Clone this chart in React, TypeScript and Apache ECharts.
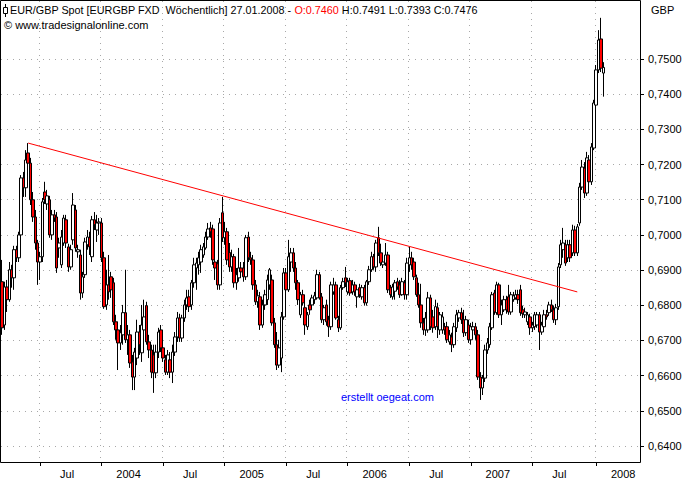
import React, { useEffect, useRef } from "react";
import * as echarts from "echarts";

// Weekly categories (week dated by its Sunday), first bar 2003-03-16, last bar 2008-01-27, padded to the right edge
const START_UTC = Date.UTC(2003, 2, 16);
const WEEK_COUNT = 270;
const categories: string[] = [];
for (let i = 0; i < WEEK_COUNT; i++) {
  categories.push(new Date(START_UTC + i * 7 * 86400000).toISOString().slice(0, 10));
}

// x-axis period marks (first bar of each half-year) and their labels
const xTickDates = ["2003-07-06", "2004-01-04", "2004-07-04", "2005-01-02", "2005-07-03", "2006-01-01", "2006-07-02", "2006-12-31", "2007-07-01", "2008-01-06"];
const xTickLabels = ["Jul", "2004", "Jul", "2005", "Jul", "2006", "Jul", "2007", "Jul", "2008"];

// y-axis labelled values
const yTickValues = [0.64, 0.65, 0.66, 0.67, 0.68, 0.69, 0.7, 0.71, 0.72, 0.73, 0.74, 0.75];

// Weekly candles [open, close, low, high]
const ohlc2003 = [
  [0.6867, 0.6736, 0.6716, 0.6929], [0.6744, 0.6852, 0.673, 0.6867], [0.6852, 0.6816, 0.6781, 0.6872], [0.6816, 0.6901, 0.681, 0.6923],
  [0.6901, 0.6878, 0.685, 0.6915], [0.6878, 0.6958, 0.6844, 0.6969], [0.6958, 0.6935, 0.6923, 0.6969], [0.6935, 0.7, 0.6923, 0.7009],
  [0.7, 0.7162, 0.6986, 0.717], [0.7162, 0.7134, 0.7108, 0.7179], [0.7134, 0.7213, 0.7108, 0.7241], [0.7233, 0.7204, 0.719, 0.7261],
  [0.7204, 0.71, 0.7085, 0.7219], [0.71, 0.7051, 0.7037, 0.7122], [0.7051, 0.6977, 0.6958, 0.7071], [0.6977, 0.6923, 0.6858, 0.6986],
  [0.6923, 0.6938, 0.6872, 0.6952], [0.6938, 0.7094, 0.6923, 0.7105], [0.7122, 0.71, 0.7088, 0.7151], [0.7088, 0.7111, 0.7071, 0.7128],
  [0.71, 0.7, 0.6992, 0.7111], [0.7, 0.7057, 0.6986, 0.7071], [0.7057, 0.7048, 0.7037, 0.7071], [0.7051, 0.6906, 0.6892, 0.7065],
  [0.6963, 0.6977, 0.6935, 0.6992], [0.6915, 0.6994, 0.6906, 0.7014], [0.6977, 0.7048, 0.6969, 0.7057], [0.7043, 0.6977, 0.6963, 0.7057],
  [0.6966, 0.6909, 0.6895, 0.6975], [0.6909, 0.6958, 0.6901, 0.6972], [0.6986, 0.7085, 0.6972, 0.7119], [0.7071, 0.6963, 0.6952, 0.7085],
  [0.6952, 0.6958, 0.6935, 0.6972], [0.6943, 0.6835, 0.6816, 0.6958], [0.6835, 0.6881, 0.6821, 0.6895], [0.6887, 0.698, 0.6878, 0.6992],
  [0.6972, 0.6994, 0.6958, 0.7014], [0.6992, 0.6966, 0.6943, 0.7009], [0.6938, 0.7043, 0.6923, 0.7054], [0.7043, 0.7029, 0.7014, 0.7065],
  [0.7014, 0.7034, 0.698, 0.7057], [0.7034, 0.7037, 0.7, 0.7048],
];
const ohlc2004 = [
  [0.7034, 0.6935, 0.6923, 0.7048], [0.6935, 0.6796, 0.679, 0.6952], [0.6801, 0.6858, 0.6787, 0.6901], [0.6858, 0.6838, 0.6816, 0.6943],
  [0.6881, 0.6844, 0.6821, 0.6895], [0.6864, 0.6753, 0.6744, 0.6878], [0.6753, 0.673, 0.6702, 0.6773], [0.673, 0.6693, 0.6616, 0.6753],
  [0.6693, 0.6722, 0.6673, 0.6744], [0.6716, 0.6779, 0.6688, 0.6801], [0.6779, 0.6702, 0.6693, 0.6901], [0.6702, 0.6716, 0.6659, 0.6744],
  [0.6716, 0.6636, 0.6622, 0.673], [0.6639, 0.6596, 0.6559, 0.6659], [0.6596, 0.6667, 0.6559, 0.6679], [0.665, 0.6724, 0.663, 0.6759],
  [0.6724, 0.6688, 0.6659, 0.6744], [0.6665, 0.6744, 0.6639, 0.6801], [0.673, 0.6767, 0.6702, 0.6816], [0.6799, 0.6696, 0.6688, 0.681],
  [0.6696, 0.6673, 0.665, 0.6716], [0.6673, 0.661, 0.6593, 0.6688], [0.6659, 0.6608, 0.6551, 0.6688], [0.6608, 0.6667, 0.6593, 0.6688],
  [0.6667, 0.6724, 0.665, 0.6736], [0.673, 0.6679, 0.6667, 0.6744], [0.6679, 0.665, 0.6639, 0.6702], [0.6645, 0.661, 0.6602, 0.6659],
  [0.661, 0.6659, 0.6602, 0.6673], [0.6645, 0.661, 0.6593, 0.6667], [0.661, 0.6667, 0.6579, 0.6688], [0.6667, 0.671, 0.6656, 0.6724],
  [0.671, 0.6764, 0.6696, 0.6781], [0.6764, 0.6707, 0.6696, 0.6776], [0.6707, 0.6764, 0.6696, 0.6773], [0.6764, 0.6801, 0.6753, 0.6816],
  [0.6801, 0.6821, 0.6787, 0.6844], [0.6824, 0.6796, 0.6781, 0.6844], [0.6801, 0.6864, 0.6787, 0.6872], [0.6864, 0.6915, 0.685, 0.6935],
  [0.6906, 0.692, 0.6844, 0.6935], [0.6915, 0.6935, 0.6887, 0.6952], [0.6923, 0.6958, 0.6892, 0.6972], [0.6943, 0.6966, 0.6935, 0.6977],
  [0.6963, 0.6994, 0.6958, 0.7009], [0.6994, 0.7017, 0.6986, 0.7034], [0.702, 0.7009, 0.6992, 0.7037], [0.7017, 0.6929, 0.6915, 0.7029],
  [0.6923, 0.6906, 0.6872, 0.6943], [0.6918, 0.6858, 0.6844, 0.6929], [0.6858, 0.7034, 0.6844, 0.7048], [0.7063, 0.6992, 0.698, 0.7108],
];
const ohlc2005 = [
  [0.6992, 0.7009, 0.6972, 0.7037], [0.7009, 0.6929, 0.6915, 0.702], [0.695, 0.6909, 0.6895, 0.6977], [0.6909, 0.6938, 0.6895, 0.6958],
  [0.6938, 0.6864, 0.685, 0.6946], [0.6864, 0.6887, 0.6844, 0.6906], [0.6878, 0.6906, 0.6867, 0.6963], [0.6906, 0.6895, 0.6878, 0.6923],
  [0.6906, 0.6881, 0.6867, 0.6923], [0.6881, 0.6992, 0.6872, 0.7], [0.6994, 0.6935, 0.6923, 0.7009], [0.6935, 0.6929, 0.6915, 0.6952],
  [0.6929, 0.6858, 0.6844, 0.6943], [0.6858, 0.681, 0.6801, 0.6872], [0.681, 0.6827, 0.6793, 0.6844], [0.6824, 0.6744, 0.673, 0.6838],
  [0.6744, 0.6801, 0.6736, 0.6816], [0.6801, 0.683, 0.6787, 0.6844], [0.6816, 0.6872, 0.6801, 0.6887], [0.6858, 0.6901, 0.6844, 0.6906],
  [0.6872, 0.675, 0.6742, 0.6887], [0.675, 0.6688, 0.6679, 0.6764], [0.6688, 0.663, 0.6616, 0.6724], [0.663, 0.6679, 0.6622, 0.6702],
  [0.665, 0.6767, 0.661, 0.6781], [0.6767, 0.6892, 0.6759, 0.6906], [0.6892, 0.6844, 0.683, 0.6906], [0.6844, 0.6938, 0.6838, 0.6986],
  [0.6923, 0.6949, 0.6895, 0.6963], [0.6949, 0.6906, 0.6895, 0.6963], [0.6906, 0.6864, 0.6844, 0.6923], [0.6864, 0.6816, 0.6801, 0.6872],
  [0.6773, 0.683, 0.6764, 0.6838], [0.683, 0.6807, 0.6799, 0.6844], [0.6793, 0.6744, 0.6716, 0.681], [0.6739, 0.6773, 0.673, 0.6781],
  [0.6801, 0.6787, 0.6773, 0.6816], [0.6801, 0.6821, 0.6793, 0.683], [0.6816, 0.6827, 0.6804, 0.6838], [0.6821, 0.6887, 0.6816, 0.6901],
  [0.6887, 0.6821, 0.6816, 0.6895], [0.6824, 0.6759, 0.675, 0.6835], [0.6759, 0.6793, 0.6744, 0.6801], [0.6801, 0.6753, 0.6742, 0.6816],
  [0.6759, 0.6739, 0.671, 0.677], [0.6739, 0.6858, 0.673, 0.6867], [0.6838, 0.6858, 0.683, 0.6878], [0.6858, 0.6764, 0.6759, 0.6867],
  [0.6759, 0.6736, 0.6724, 0.677], [0.6736, 0.685, 0.673, 0.6858], [0.685, 0.6867, 0.6844, 0.6878], [0.6878, 0.6864, 0.6852, 0.6909],
];
const ohlc2006 = [
  [0.6838, 0.6867, 0.683, 0.6878], [0.687, 0.6835, 0.6827, 0.6878], [0.6838, 0.6858, 0.683, 0.6872], [0.6858, 0.6838, 0.6827, 0.6867],
  [0.6824, 0.6844, 0.6793, 0.6852], [0.685, 0.683, 0.6821, 0.6861], [0.6824, 0.685, 0.6816, 0.6858], [0.685, 0.6807, 0.6799, 0.6858],
  [0.6807, 0.6867, 0.6799, 0.6872], [0.6867, 0.6901, 0.6858, 0.6912], [0.6901, 0.6938, 0.6895, 0.6952], [0.6938, 0.6909, 0.6901, 0.6946],
  [0.6909, 0.6977, 0.6895, 0.6986], [0.6992, 0.6949, 0.694, 0.7023], [0.6949, 0.692, 0.6912, 0.6975], [0.6915, 0.6923, 0.6906, 0.6935],
  [0.692, 0.6943, 0.6912, 0.6977], [0.6943, 0.6844, 0.6835, 0.6952], [0.685, 0.683, 0.6821, 0.6858], [0.6824, 0.6852, 0.6816, 0.6861],
  [0.684, 0.6864, 0.6816, 0.6872], [0.6867, 0.6852, 0.6844, 0.6878], [0.6858, 0.683, 0.6821, 0.6872], [0.683, 0.6867, 0.6827, 0.6878],
  [0.6864, 0.683, 0.6816, 0.6872], [0.683, 0.692, 0.6816, 0.6935], [0.6915, 0.6935, 0.6895, 0.6966], [0.6935, 0.6915, 0.6901, 0.6952],
  [0.6923, 0.6881, 0.6872, 0.6935], [0.6878, 0.683, 0.6824, 0.6887], [0.683, 0.6801, 0.6793, 0.6864], [0.6801, 0.675, 0.6736, 0.6861],
  [0.675, 0.673, 0.6716, 0.6764], [0.673, 0.6764, 0.6713, 0.6781], [0.673, 0.6821, 0.6722, 0.6838], [0.6821, 0.6739, 0.673, 0.683],
  [0.6767, 0.6736, 0.6722, 0.6787], [0.6739, 0.6796, 0.673, 0.6816], [0.6793, 0.6739, 0.6707, 0.6807], [0.673, 0.6773, 0.6716, 0.6781],
  [0.673, 0.6767, 0.6719, 0.6781], [0.6739, 0.673, 0.6716, 0.675], [0.6739, 0.6702, 0.6693, 0.6753], [0.6696, 0.6716, 0.6688, 0.673],
  [0.671, 0.6688, 0.6667, 0.6722], [0.6688, 0.6739, 0.6679, 0.675], [0.6736, 0.6773, 0.6724, 0.6787], [0.6764, 0.6779, 0.6753, 0.6787],
  [0.6779, 0.6759, 0.6747, 0.6793], [0.6759, 0.6722, 0.671, 0.6787], [0.6722, 0.6759, 0.6713, 0.677], [0.6744, 0.6702, 0.6693, 0.6759],
  [0.6702, 0.6739, 0.6688, 0.675],
];
const ohlc2007 = [
  [0.673, 0.6739, 0.6722, 0.6753], [0.6739, 0.6716, 0.6702, 0.675], [0.6716, 0.6596, 0.6588, 0.673], [0.6596, 0.6565, 0.6531, 0.661],
  [0.6565, 0.6593, 0.6545, 0.6602], [0.6593, 0.6673, 0.6582, 0.6688], [0.6673, 0.6693, 0.6662, 0.6707], [0.6688, 0.6739, 0.6679, 0.675],
  [0.6736, 0.683, 0.673, 0.6838], [0.6835, 0.6781, 0.6773, 0.6844], [0.6779, 0.6858, 0.6773, 0.6867], [0.6858, 0.6773, 0.6764, 0.6864],
  [0.6773, 0.6801, 0.6744, 0.6816], [0.6787, 0.6816, 0.6781, 0.6827], [0.6816, 0.6787, 0.6776, 0.6827], [0.6824, 0.6781, 0.6773, 0.6858],
  [0.6781, 0.683, 0.6773, 0.6838], [0.6816, 0.6827, 0.681, 0.6838], [0.6821, 0.683, 0.6816, 0.6844], [0.683, 0.6816, 0.6804, 0.6844],
  [0.6844, 0.6779, 0.677, 0.6858], [0.6787, 0.6776, 0.6764, 0.6799], [0.6773, 0.6781, 0.6764, 0.6793], [0.6753, 0.6773, 0.6744, 0.6781],
  [0.6767, 0.6736, 0.6716, 0.6776], [0.6736, 0.6744, 0.6724, 0.6753], [0.6739, 0.6773, 0.673, 0.6781], [0.6744, 0.6773, 0.6736, 0.6781],
  [0.6773, 0.6724, 0.6673, 0.6781], [0.6724, 0.6744, 0.6716, 0.6753], [0.6739, 0.6773, 0.673, 0.6787], [0.6773, 0.6767, 0.6759, 0.6787],
  [0.6779, 0.6801, 0.677, 0.681], [0.6801, 0.6787, 0.6781, 0.6816], [0.6787, 0.6759, 0.675, 0.6799], [0.6759, 0.6793, 0.6744, 0.6804],
  [0.6796, 0.6909, 0.6787, 0.692], [0.6915, 0.6972, 0.6906, 0.6986], [0.6958, 0.6977, 0.6935, 0.702], [0.6972, 0.692, 0.6912, 0.6986],
  [0.6935, 0.6972, 0.6923, 0.6986], [0.6972, 0.6935, 0.6923, 0.6986], [0.6949, 0.7014, 0.694, 0.7029], [0.7014, 0.6949, 0.694, 0.7026],
  [0.6949, 0.7023, 0.694, 0.7031], [0.7034, 0.7136, 0.7026, 0.7148], [0.7136, 0.7193, 0.7128, 0.7213], [0.719, 0.7119, 0.7105, 0.7207],
  [0.7119, 0.7219, 0.7111, 0.7236], [0.7213, 0.7151, 0.7134, 0.7227], [0.7151, 0.725, 0.7142, 0.7261], [0.7247, 0.7375, 0.7241, 0.7384],
];
const ohlc2008 = [
  [0.7369, 0.7469, 0.7361, 0.7483], [0.7469, 0.7554, 0.746, 0.7582], [0.7557, 0.7474, 0.7463, 0.7617], [0.746, 0.7476, 0.7393, 0.7491],
];

// Trend line anchors (week index, price)
const trendStartIndex = 11;
const trendStartPrice = 0.7261;
const trendEndIndex = 243;
const trendEndPrice = 0.6838;

const FONT = '"Liberation Sans", Arial, sans-serif';

const isTick = (_i: number, value: string) => xTickDates.indexOf(value) >= 0;

export default function App() {
  const ref = useRef<HTMLDivElement>(null);

  useEffect(() => {
    document.body.style.margin = "0";
    if (!ref.current) return;
    const chart = echarts.init(ref.current, undefined, { renderer: "svg" });
    const candles = [...ohlc2003, ...ohlc2004, ...ohlc2005, ...ohlc2006, ...ohlc2007, ...ohlc2008];
    const dotted = { color: "#a8a8a8", width: 1, type: [1, 5] as number[] };

    chart.setOption({
      animation: false,
      backgroundColor: "#ffffff",
      grid: [
        { left: 1, width: 639, top: 23.82, height: 422.2 },
        { left: 1, width: 639, top: 1, height: 461 },
      ],
      xAxis: [
        { type: "category", gridIndex: 0, data: categories, boundaryGap: true, show: false },
        {
          type: "category",
          gridIndex: 1,
          data: categories,
          boundaryGap: true,
          position: "bottom",
          axisLine: { show: false },
          axisTick: { show: true, alignWithLabel: true, length: 4, interval: isTick, lineStyle: { color: "#000" } },
          axisLabel: {
            show: true,
            interval: isTick,
            hideOverlap: false,
            margin: 6,
            padding: [0, 0, 0, 54],
            fontSize: 11,
            fontFamily: FONT,
            color: "#000",
            formatter: (v: string) => {
              const k = xTickDates.indexOf(v);
              return k >= 0 ? xTickLabels[k] : "";
            },
          },
          splitLine: { show: true, interval: isTick, lineStyle: dotted },
        },
      ],
      yAxis: [
        {
          type: "value",
          gridIndex: 0,
          position: "right",
          min: 0.64,
          max: 0.76,
          interval: 0.01,
          axisLine: { show: false },
          axisTick: { show: true, length: 4, customValues: yTickValues, lineStyle: { color: "#000" } },
          axisLabel: {
            customValues: yTickValues,
            margin: 8,
            fontSize: 11,
            fontFamily: FONT,
            color: "#000",
            formatter: (v: number) => (v > 0.635 && v < 0.755 ? v.toFixed(4).replace(".", ",") : ""),
          },
          splitLine: { show: true, lineStyle: dotted },
        },
        { type: "value", gridIndex: 1, show: false, min: 0, max: 1 },
      ],
      series: [
        {
          type: "candlestick",
          xAxisIndex: 0,
          yAxisIndex: 0,
          data: candles,
          barWidth: 3,
          clip: false,
          silent: true,
          itemStyle: { color: "#ffffff", color0: "#ff0000", borderColor: "#000000", borderColor0: "#000000", borderWidth: 1 },
          markLine: {
            silent: true,
            symbol: ["none", "none"],
            label: { show: false },
            lineStyle: { color: "#ff0000", width: 1, type: "solid" },
            data: [
              [
                { coord: [categories[trendStartIndex], trendStartPrice] },
                { coord: [categories[trendEndIndex], trendEndPrice] },
              ],
            ],
          },
        },
        { type: "line", xAxisIndex: 1, yAxisIndex: 1, data: [], silent: true },
      ],
      graphic: [
        { type: "rect", z: 100, shape: { x: 0.5, y: 0.5, width: 640, height: 462 }, style: { fill: "none", stroke: "#000", lineWidth: 1 } },
        { type: "line", z: 100, shape: { x1: 5.5, y1: 4, x2: 5.5, y2: 17 }, style: { stroke: "#000", lineWidth: 1 } },
        { type: "rect", z: 101, shape: { x: 3.5, y: 7.5, width: 4, height: 6 }, style: { fill: "#fff", stroke: "#000", lineWidth: 1 } },
        {
          type: "text",
          z: 100,
          x: 10,
          y: 4,
          style: {
            text: "{a|EUR/GBP Spot [EURGBP FXD\u00a0 Wöchentlich] 27.01.2008 - }{r|O:0.7460}{a| H:0.7491 L:0.7393 C:0.7476}",
            font: `10.8px ${FONT}`,
            fill: "#000",
            verticalAlign: "top",
            rich: {
              a: { fill: "#000", color: "#000", font: `10.8px ${FONT}` },
              r: { fill: "#ff0000", color: "#ff0000", font: `10.8px ${FONT}` },
            },
          },
        },
        { type: "text", z: 100, x: 4, y: 19, style: { text: "© www.tradesignalonline.com", font: `11px ${FONT}`, fill: "#000", verticalAlign: "top" } },
        { type: "text", z: 100, x: 651, y: 4, style: { text: "GBP", font: `11px ${FONT}`, fill: "#000", verticalAlign: "top" } },
        { type: "text", z: 100, x: 341, y: 391, style: { text: "erstellt oegeat.com", font: `11px ${FONT}`, fill: "#0000ff", verticalAlign: "top" } },
      ],
    });

    return () => chart.dispose();
  }, []);

  return <div ref={ref} style={{ width: 700, height: 480 }} />;
}
